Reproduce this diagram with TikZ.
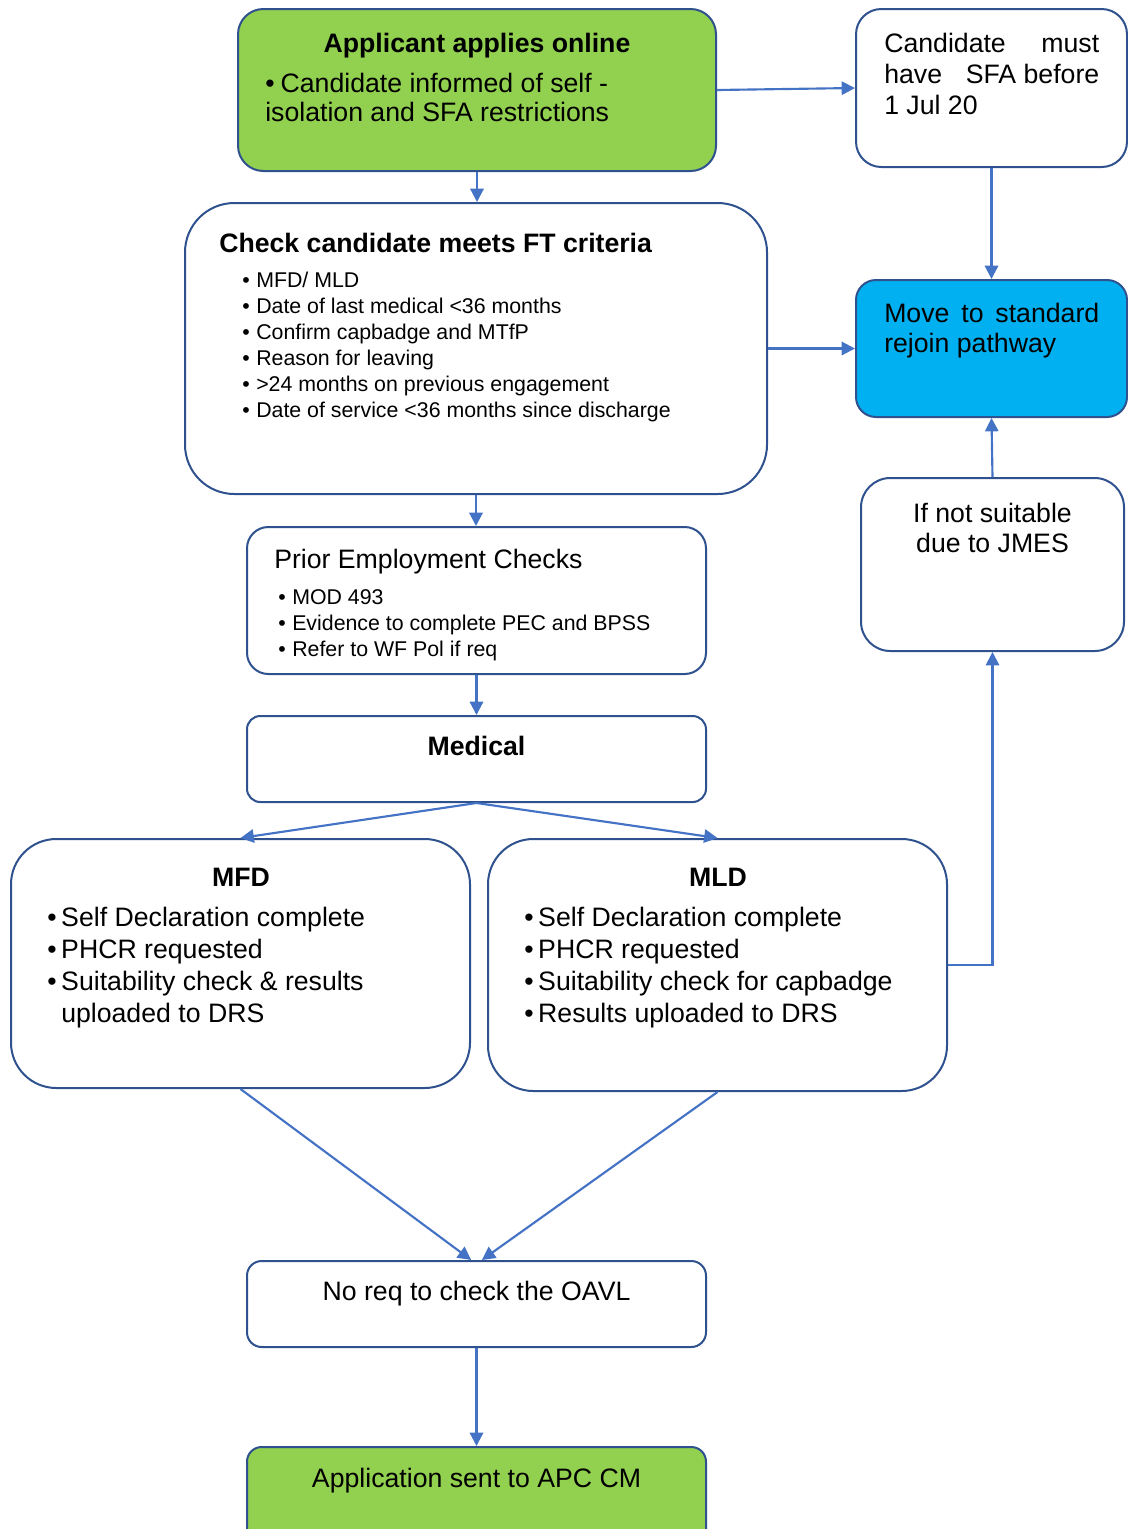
\documentclass[tikz,border=0pt]{standalone}
\usepackage{fontspec}
\setmainfont{Liberation Sans}
\usetikzlibrary{arrows.meta}

\definecolor{boxline}{HTML}{2F528F}
\definecolor{arrowblue}{HTML}{4472C4}
\definecolor{appgreen}{HTML}{92D050}
\definecolor{rejoinblue}{HTML}{00B0F0}

\newcommand{\itm}[1]{\makebox[10.5pt][l]{\textbullet}#1}
\newcommand{\bigtxt}[1]{\fontsize{20}{#1}\selectfont}
\newcommand{\smalltxt}{\fontsize{16}{19.5}\selectfont}

\tikzset{
    box/.style={draw=boxline, line width=1.5pt, inner sep=0pt, rounded corners=#1},
    box/.default=12pt,
    flow/.style={draw=arrowblue, line width=1.6pt, -{Triangle[length=10pt,width=10pt]}},
    txt/.style={inner sep=0pt, anchor=base west},
    ctxt/.style={inner sep=0pt, anchor=base}
}

\begin{document}
\begin{tikzpicture}[x=0.75pt, y=-0.75pt]
    \useasboundingbox (0,0) rectangle (1128,1529);

    % Boxes
    \node[box=19pt, fill=appgreen, minimum width=358.5pt, minimum height=121.5pt] (apply) at (477,90) {};
    \node[box=19pt, fill=white, minimum width=203.25pt, minimum height=118.5pt] (sfa) at (991.5,88) {};
    \node[box=37pt, fill=white, minimum width=436.5pt, minimum height=218.25pt] (check) at (476,348.5) {};
    \node[box=15pt, fill=rejoinblue, minimum width=203.25pt, minimum height=102.75pt] (rejoin) at (991.5,348.5) {};
    \node[box=16pt, fill=white, minimum width=344.25pt, minimum height=110.25pt] (pec) at (476.5,600.5) {};
    \node[box=22pt, fill=white, minimum width=197.25pt, minimum height=129.75pt] (jmes) at (992.5,564.5) {};
    \node[box=10pt, fill=white, minimum width=344.25pt, minimum height=64.5pt] (medical) at (476.5,759) {};
    \node[box=34pt, fill=white, minimum width=344.25pt, minimum height=186.75pt] (mfd) at (240.5,963.5) {};
    \node[box=34pt, fill=white, minimum width=344.25pt, minimum height=189pt] (mld) at (717.5,965) {};
    \node[box=11pt, fill=white, minimum width=344.25pt, minimum height=64.5pt] (oavl) at (476.5,1304) {};
    \node[box=11pt, fill=appgreen, minimum width=344.25pt, minimum height=73.5pt] (apc) at (476.5,1496) {};

    % Texts
    \node[ctxt] (apply-title) at (477,52) {\bigtxt{24}\bfseries Applicant applies online};
    \node[txt] (apply-text) at (265,92) {\parbox[t]{340pt}{\bigtxt{21.75}\textbullet\hspace{4.5pt}Candidate informed of self -\\isolation and SFA restrictions}};

    \node[txt] (sfa-text) at (884,52) {\parbox[t]{161.25pt}{\bigtxt{23.25}Candidate\hfill must\\have\hfill SFA before\\1 Jul 20}};

    \node[txt] (check-title) at (219,252) {\bigtxt{24}\bfseries Check candidate meets FT criteria};
    \node[txt] (check-list) at (242,287) {\parbox[t]{400pt}{\smalltxt
        \itm{MFD/ MLD}\\
        \itm{Date of last medical <36 months}\\
        \itm{Confirm capbadge and MTfP}\\
        \itm{Reason for leaving}\\
        \itm{>24 months on previous engagement}\\
        \itm{Date of service <36 months since discharge}}};

    \node[txt] (rejoin-text) at (884,322) {\parbox[t]{161.25pt}{\bigtxt{22.5}Move\hfill to\hfill standard\\rejoin pathway}};

    \node[txt] (pec-title) at (274,568) {\bigtxt{24}Prior Employment Checks};
    \node[txt] (pec-list) at (278,604) {\parbox[t]{320pt}{\smalltxt
        \itm{MOD 493}\\
        \itm{Evidence to complete PEC and BPSS}\\
        \itm{Refer to WF Pol if req}}};

    \node[ctxt] (jmes-text) at (992.5,522) {\parbox[t]{180pt}{\centering\bigtxt{22.5}If not suitable\\due to JMES}};

    \node[ctxt] (medical-title) at (476.5,755) {\bigtxt{24}\bfseries Medical};

    \node[ctxt] (mfd-title) at (241,886) {\bigtxt{24}\bfseries MFD};
    \node[txt] (mfd-list) at (47,926) {\parbox[t]{330pt}{\bigtxt{24}
        \itm{Self Declaration complete}\\
        \itm{PHCR requested}\\
        \itm{Suitability check \& results}\\
        \hspace*{10.5pt}uploaded to DRS}};

    \node[ctxt] (mld-title) at (718,886) {\bigtxt{24}\bfseries MLD};
    \node[txt] (mld-list) at (524,926) {\parbox[t]{330pt}{\bigtxt{24}
        \itm{Self Declaration complete}\\
        \itm{PHCR requested}\\
        \itm{Suitability check for capbadge}\\
        \itm{Results uploaded to DRS}}};

    \node[ctxt] (oavl-text) at (476.5,1300) {\bigtxt{24}No req to check the OAVL};
    \node[ctxt] (apc-text) at (476.5,1487) {\bigtxt{24}Application sent to APC CM};

    % Connectors
    \draw[flow] (apply.east) -- (sfa.west);
    \draw[flow] (apply.south) -- (apply.south |- check.north);
    \draw[flow] (sfa.south) -- (rejoin.north);
    \draw[flow] (check.east) -- (rejoin.west);
    \draw[flow] (check.south) -- (check.south |- pec.north);
    \draw[flow] (pec.south) -- (medical.north);
    \draw[flow] (medical.south) -- (mfd.north);
    \draw[flow] (medical.south) -- (mld.north);
    \draw[flow] (mld.east) -| (jmes.south);
    \draw[flow] (jmes.north) -- (rejoin.south);
    \draw[flow] (mfd.south) -- ([xshift=-4pt]oavl.north);
    \draw[flow] (mld.south) -- ([xshift=4pt]oavl.north);
    \draw[flow] (oavl.south) -- (apc.north);
\end{tikzpicture}
\end{document}
